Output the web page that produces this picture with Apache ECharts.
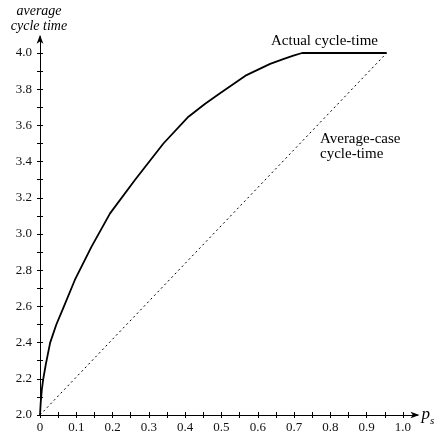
<!DOCTYPE html>
<html>
<head>
<meta charset="utf-8">
<script src="https://cdn.jsdelivr.net/npm/echarts@6/dist/echarts.min.js"></script>
<style>
  html, body {margin: 0; padding: 0; background: #fff;}
  #chart {width: 438px; height: 437px;}
</style>
</head>
<body>
<div id="chart"></div>
<script>
// actual cycle-time curve (p_s, average cycle time)
const actualX = [0, 0.002, 0.005, 0.009, 0.016, 0.028, 0.045, 0.064, 0.096, 0.142, 0.193, 0.262, 0.34, 0.409, 0.455, 0.496, 0.569, 0.634, 0.67, 0.698, 0.722, 0.955];
const actualY = [2.0, 2.07, 2.14, 2.2, 2.28, 2.4, 2.5, 2.59, 2.746, 2.93, 3.114, 3.30, 3.50, 3.648, 3.72, 3.777, 3.878, 3.94, 3.966, 3.985, 4.0, 4.0];
// average-case cycle-time (straight line)
const averageX = [0, 0.955];
const averageY = [2.0, 4.0];

const xTicks = [0, 0.05, 0.1, 0.15, 0.2, 0.25, 0.3, 0.35, 0.4, 0.45, 0.5, 0.55, 0.6, 0.65, 0.7, 0.75, 0.8, 0.85, 0.9, 0.95, 1.0];
const xLabels = [0, 0.1, 0.2, 0.3, 0.4, 0.5, 0.6, 0.7, 0.8, 0.9, 1.0];
const yTicks = [2.0, 2.1, 2.2, 2.3, 2.4, 2.5, 2.6, 2.7, 2.8, 2.9, 3.0, 3.1, 3.2, 3.3, 3.4, 3.5, 3.6, 3.7, 3.8, 3.9, 4.0];
const yLabels = [2.0, 2.2, 2.4, 2.6, 2.8, 3.0, 3.2, 3.4, 3.6, 3.8, 4.0];

const serif = 'Liberation Serif';
const ink = '#000';

function pairs(xs, ys) {
  return xs.map((x, i) => [x, ys[i]]);
}

function xAxisPart(inside, withLabels) {
  return {
    type: 'value', min: 0, max: 1.04, position: 'bottom',
    axisLine: withLabels
      ? {show: true, lineStyle: {color: ink, width: 1}, symbol: ['none', 'arrow'], symbolSize: [5, 9], symbolOffset: [0, 2]}
      : {show: false},
    axisTick: {show: true, inside: inside, length: 3, lineStyle: {color: ink}, customValues: xTicks},
    axisLabel: withLabels
      ? {show: true, customValues: xLabels, margin: 6, color: '#111', fontFamily: serif, fontSize: 13,
         formatter: v => v === 0 ? '0' : v.toFixed(1)}
      : {show: false},
    splitLine: {show: false},
    name: withLabels ? '{p|p}{s|s}' : '',
    nameLocation: 'end', nameGap: 4,
    nameTextStyle: {
      rich: {
        p: {fontFamily: serif, fontStyle: 'italic', fontSize: 17, color: ink},
        s: {fontFamily: serif, fontStyle: 'italic', fontSize: 11, color: ink, padding: [12, 0, 0, 0]}
      }
    }
  };
}

function yAxisPart(inside, withLabels) {
  return {
    type: 'value', min: 2, max: 4.09, position: 'left',
    axisLine: withLabels
      ? {show: true, lineStyle: {color: ink, width: 1}, symbol: ['none', 'arrow'], symbolSize: [5, 9], symbolOffset: [0, 2]}
      : {show: false},
    axisTick: {show: true, inside: inside, length: 3, lineStyle: {color: ink}, customValues: yTicks},
    axisLabel: withLabels
      ? {show: true, customValues: yLabels, margin: 8, color: '#111', fontFamily: serif, fontSize: 13,
         formatter: v => v.toFixed(1)}
      : {show: false},
    splitLine: {show: false}
  };
}

const chart = echarts.init(document.getElementById('chart'));
chart.setOption({
  animation: false,
  backgroundColor: '#fff',
  grid: {left: 40, right: 20.5, top: 36.7, bottom: 22, containLabel: false},
  xAxis: [xAxisPart(false, true), xAxisPart(true, false)],
  yAxis: [yAxisPart(false, true), yAxisPart(true, false)],
  graphic: [
    // y-axis title, each line centred over the axis
    {type: 'text', x: 39, y: 4, style: {text: 'average\ncycle time', font: 'italic 14px "Liberation Serif"', fill: ink, align: 'center', lineHeight: 15}},
    {type: 'text', left: 271, top: 34, style: {text: 'Actual cycle-time', font: '15px "Liberation Serif"', fill: ink}},
    {type: 'text', left: 320, top: 132, style: {text: 'Average-case\ncycle-time', font: '15px "Liberation Serif"', fill: ink, lineHeight: 15}}
  ],
  series: [
    {
      name: 'Actual cycle-time', type: 'line', data: pairs(actualX, actualY),
      smooth: false, showSymbol: false,
      lineStyle: {color: ink, width: 1.8, join: 'round'}
    },
    {
      name: 'Average-case cycle-time', type: 'line', data: pairs(averageX, averageY),
      showSymbol: false,
      lineStyle: {color: ink, width: 1, type: [2, 3]}
    }
  ]
});
</script>
</body>
</html>
